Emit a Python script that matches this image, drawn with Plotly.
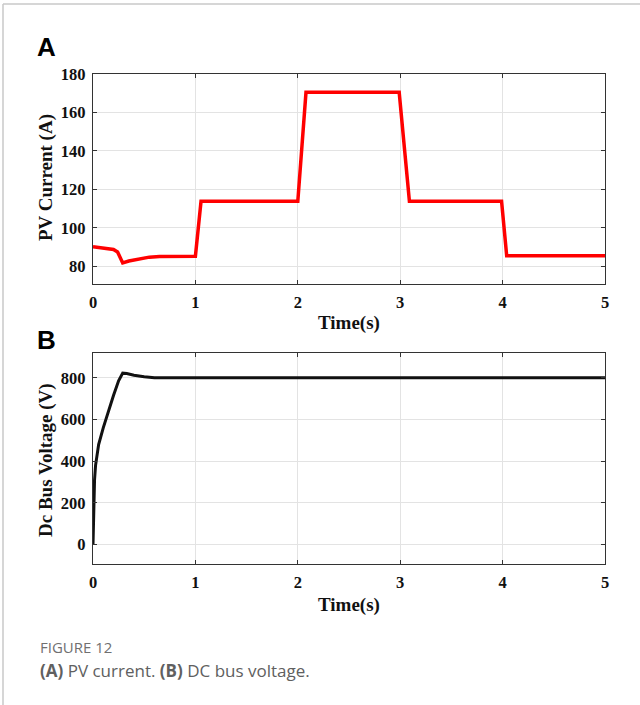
import plotly.graph_objects as go

# ---- data ----
pv_time = [0, 0.1, 0.2, 0.24, 0.27, 0.29, 0.35, 0.45, 0.55, 0.65, 0.8, 1.0, 1.055,
           1.5, 2.0, 2.08, 2.5, 2.99, 3.09, 3.5, 3.99, 4.04, 4.5, 5.0]
pv_current = [90.2, 89.6, 88.8, 87.5, 83.5, 81.8, 82.8, 84.0, 84.8, 85.2, 85.3, 85.3, 113.8,
              113.8, 113.8, 170.5, 170.5, 170.5, 113.8, 113.8, 113.8, 85.5, 85.5, 85.5]

dc_time = [0, 0.003, 0.008, 0.015, 0.025, 0.04, 0.055, 0.1, 0.15, 0.2, 0.25, 0.29,
           0.33, 0.4, 0.5, 0.6, 1.0, 2.0, 3.0, 4.0, 5.0]
dc_voltage = [0, 120, 230, 310, 380, 440, 480, 560, 640, 715, 785, 822,
              820, 812, 805, 800, 800, 800, 800, 800, 800]

x_ticks = [0, 1, 2, 3, 4, 5]
pv_ticks = [80, 100, 120, 140, 160, 180]
dc_ticks = [0, 200, 400, 600, 800]

W, H = 640, 705
def px(x):
    return x / W
def py(y):
    return 1 - y / H

fig = go.Figure()
fig.add_trace(go.Scatter(x=pv_time, y=pv_current, mode="lines",
                         line=dict(color="#ff0000", width=3.5), xaxis="x", yaxis="y",
                         showlegend=False))
fig.add_trace(go.Scatter(x=dc_time, y=dc_voltage, mode="lines",
                         line=dict(color="#111111", width=3), xaxis="x2", yaxis="y2",
                         showlegend=False))

tickfont = dict(family="Liberation Serif", size=16.5, color="#111111", weight="bold")
axis_common = dict(showline=True, linecolor="#333333", linewidth=1.3, mirror="ticks",
                   ticks="inside", ticklen=4, tickcolor="#333333", automargin=False,
                   showgrid=True, gridcolor="#e3e3e3", gridwidth=1, ticklabelstandoff=3,
                   zeroline=False, tickfont=tickfont)

fig.update_layout(
    width=W, height=H, margin=dict(l=0, r=0, t=0, b=0, autoexpand=False),
    paper_bgcolor="white", plot_bgcolor="white",
    xaxis=dict(domain=[px(93), px(605)], range=[0, 5], tickvals=x_ticks, anchor="y", **axis_common),
    yaxis=dict(domain=[py(283.7), py(74)], range=[71, 180], tickvals=pv_ticks, anchor="x", **axis_common),
    xaxis2=dict(domain=[px(93), px(605)], range=[0, 5], tickvals=x_ticks, anchor="y2", **axis_common),
    yaxis2=dict(domain=[py(564.3), py(352.7)], range=[-94, 920], tickvals=dc_ticks, anchor="x2", **axis_common),
)

ann = []
titlefont = dict(family="Liberation Serif", size=19, color="#111111")
ann.append(dict(text="<b>Time(s)</b>", x=px(349), y=py(323), xref="paper", yref="paper",
                showarrow=False, font=titlefont, xanchor="center", yanchor="middle"))
ann.append(dict(text="<b>Time(s)</b>", x=px(349), y=py(605), xref="paper", yref="paper",
                showarrow=False, font=titlefont, xanchor="center", yanchor="middle"))
ann.append(dict(text="<b>PV Current (A)</b>", x=px(46), y=py(178), xref="paper", yref="paper",
                showarrow=False, font=titlefont, textangle=-90, xanchor="center", yanchor="middle"))
ann.append(dict(text="<b>Dc Bus Voltage (V)</b>", x=px(46), y=py(460), xref="paper", yref="paper",
                showarrow=False, font=titlefont, textangle=-90, xanchor="center", yanchor="middle"))
ann.append(dict(text="<b>A</b>", x=px(35), y=py(47), xref="paper", yref="paper",
                showarrow=False, font=dict(family="Liberation Sans", size=26, color="#000000"),
                xanchor="left", yanchor="middle"))
ann.append(dict(text="<b>B</b>", x=px(35), y=py(340), xref="paper", yref="paper",
                showarrow=False, font=dict(family="Liberation Sans", size=26, color="#000000"),
                xanchor="left", yanchor="middle"))
ann.append(dict(text="FIGURE 12", x=px(38), y=py(647), xref="paper", yref="paper",
                showarrow=False, font=dict(family="Open Sans", size=15, color="#707070"),
                xanchor="left", yanchor="middle"))
ann.append(dict(text="<b>(A)</b> PV current. <b>(B)</b> DC bus voltage.", x=px(38), y=py(670),
                xref="paper", yref="paper", showarrow=False,
                font=dict(family="Open Sans", size=17, color="#606060"),
                xanchor="left", yanchor="middle"))
fig.update_layout(annotations=ann)

fig.update_layout(shapes=[
    dict(type="line", xref="paper", yref="paper", x0=px(3), x1=1, y0=py(4), y1=py(4),
         line=dict(color="#c8c8c8", width=1.5)),
    dict(type="line", xref="paper", yref="paper", x0=px(3), x1=px(3), y0=py(4), y1=0,
         line=dict(color="#c8c8c8", width=1.5)),
])

fig.write_html("out.html")
